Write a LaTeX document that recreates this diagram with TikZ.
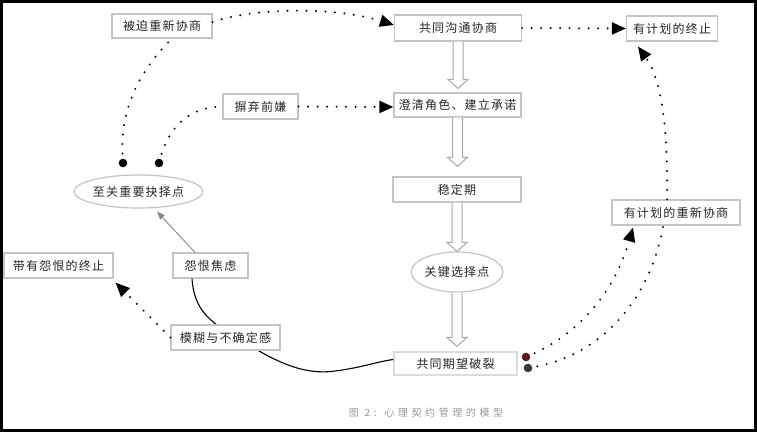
\documentclass[tikz,border=0pt]{standalone}
\usepackage{fontspec}
\newfontfamily\cjk{Noto Sans CJK SC}[LetterSpace=10]
\newfontfamily\cjkcap{Noto Sans CJK SC}[LetterSpace=36]
\usetikzlibrary{shapes.geometric,arrows.meta,calc}
\definecolor{boxgray}{HTML}{C4C4C4}
\definecolor{txtgray}{HTML}{262626}
\definecolor{capgray}{HTML}{9A9A9A}
\definecolor{arrgray}{HTML}{A8A8A8}
\definecolor{dotred}{HTML}{5A1A1A}
\definecolor{dotgray}{HTML}{3A3A3A}
\tikzset{
  lbox/.style={draw=boxgray, line width=1.2pt, fill=white, inner sep=0pt,
    text=txtgray, font=\cjk\fontsize{12}{14}\selectfont},
  lell/.style={ellipse, draw=boxgray, line width=1.2pt, fill=white, inner sep=0pt,
    text=txtgray, font=\cjk\fontsize{12}{14}\selectfont},
  dotline/.style={line width=2.2pt, dash pattern=on 0pt off 9.5pt, line cap=round, black},
  bigtip/.style={-{Triangle[length=14pt,width=12pt]}},
  blockarr/.style={draw=arrgray, fill=white, line width=1pt, line join=miter},
}
\newcommand\blockarrow[3]{%
  \draw[blockarr] let \p1=(#1.south), \p2=(#2.north) in
  (\x1-5pt,\y1) -- (\x1-5pt,\y2+#3pt+9pt) -- (\x1-10pt,\y2+#3pt+9pt) --
  (\x1,\y2+#3pt) -- (\x1+10pt,\y2+#3pt+9pt) -- (\x1+5pt,\y2+#3pt+9pt) -- (\x1+5pt,\y1);%
}
\begin{document}
\begin{tikzpicture}[x=1pt,y=-1pt]
\useasboundingbox (0,0) rectangle (757,432);
\fill[black] (0,0) rectangle (757,432);
\fill[white] (2.5,2.5) rectangle (753.5,428.5);

% nodes
\node[lbox, minimum width=100pt, minimum height=24pt] (bp) at (162,26) {被迫重新协商};
\node[lbox, minimum width=127pt, minimum height=26pt] (gt) at (458,28) {共同沟通协商};
\node[lbox, minimum width=91pt, minimum height=25pt] (zz) at (672,28.5) {有计划的终止};
\node[lbox, minimum width=127pt, minimum height=24pt] (cq) at (457.5,105) {澄清角色、建立承诺};
\node[lbox, minimum width=75pt, minimum height=25pt] (qq) at (260.5,106.5) {摒弃前嫌};
\node[lbox, minimum width=128pt, minimum height=25pt] (wd) at (457,189.5) {稳定期};
\node[lbox, minimum width=128pt, minimum height=25pt] (jh) at (676,212.5) {有计划的重新协商};
\node[lbox, minimum width=109pt, minimum height=25pt] (dy) at (58.5,265.5) {带有怨恨的终止};
\node[lbox, minimum width=75pt, minimum height=25pt] (yh) at (210.5,265.5) {怨恨焦虑};
\node[lell, minimum width=119pt, minimum height=33pt] (e1) at (138.5,191.5) {至关重要抉择点};
\node[lell, minimum width=88pt, minimum height=40pt] (e2) at (457,272) {关键选择点};
\node[lbox, draw=boxgray!60, minimum width=123pt, minimum height=23pt] (pl) at (455.5,363.5) {共同期望破裂};

% solid black curve from 怨恨焦虑 to 共同期望破裂, passing behind 模糊与不确定感
\draw[line width=1.1pt, black] ([xshift=-18.5pt]yh.south) .. controls (194,310) and (210,322) .. (237,338)
  .. controls (270,358) and (300,376) .. (335,371)
  .. controls (360,368) and (380,361) .. ([yshift=4pt]pl.west);

\node[lbox, minimum width=109pt, minimum height=25pt] (mh) at (225.5,337.5) {模糊与不确定感};

% block arrows
\blockarrow{gt}{cq}{4}
\blockarrow{cq}{wd}{10}
\blockarrow{wd}{e2}{0}
\blockarrow{e2}{pl}{5}

% dot end points
\coordinate (d1) at (123,163);
\coordinate (d2) at (159,163);
\coordinate (d3) at (526,357);
\coordinate (d4) at (528,368);

% dotted connectors
\draw[dotline, bigtip] ([yshift=4pt]bp.east) .. controls (260,6) and (340,8) .. ([yshift=3pt]gt.west);
\draw[dotline] (d1) .. controls (118,110) and (140,70) .. ([xshift=10pt]bp.south);
\draw[dotline] (d2) .. controls (168,125) and (190,108) .. ([xshift=-2pt]qq.west);
\draw[dotline, bigtip] (qq.east) -- ([yshift=-2pt]cq.west);
\draw[dotline, bigtip] (gt.east) -- (zz.west);
\draw[dotline, bigtip] ([xshift=-9pt]jh.north) .. controls (668,130) and (662,80) .. ([xshift=-34pt,yshift=-5pt]zz.south);
\draw[dotline, bigtip] (d3) .. controls (580,335) and (615,290) .. ([xshift=-43pt,yshift=-2pt]jh.south);
\draw[dotline] (d4) .. controls (600,358) and (650,300) .. ([xshift=-13pt,yshift=-1pt]jh.south);
\draw[dotline, bigtip] (mh.west) -- ([xshift=2pt,yshift=-4pt]dy.south east);

% gray solid arrow
\draw[arrgray!80!black, line width=0.9pt, -{Triangle[length=8pt,width=6pt]}] ([xshift=-15.5pt]yh.north) -- ([xshift=18.5pt,yshift=-3pt]e1.south);

% dots
\fill[black] (d1) circle (4.3pt);
\fill[black] (d2) circle (4.3pt);
\fill[dotred] (d3) circle (4.3pt);
\fill[dotgray] (d4) circle (4.3pt);

% caption
\node[text=capgray, font=\cjkcap\fontsize{10}{12}\selectfont, inner sep=0pt] (cap) at (426,413) {图 2: 心理契约管理的模型};
\end{tikzpicture}
\end{document}
